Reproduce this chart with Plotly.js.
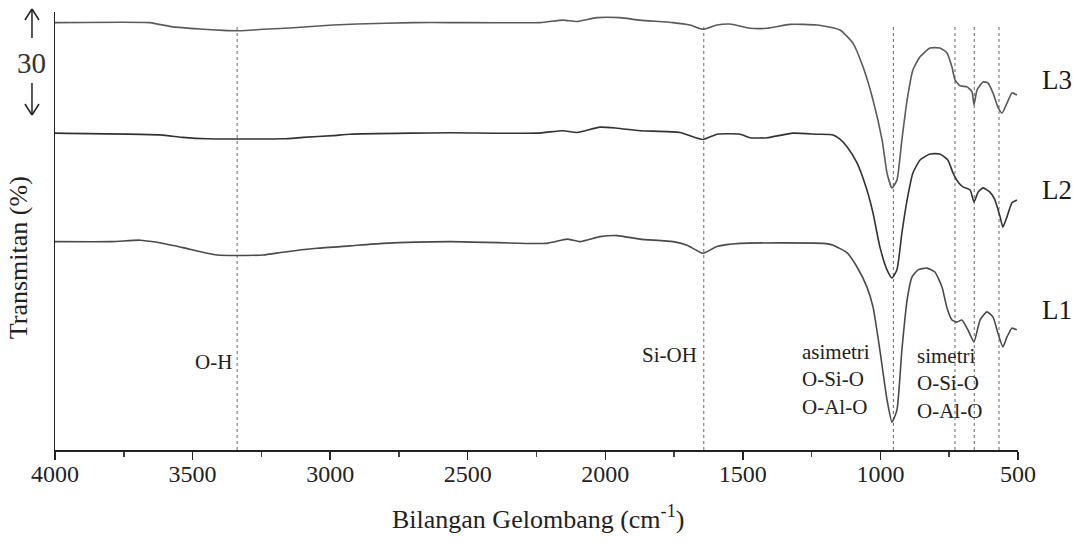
<!DOCTYPE html>
<html>
<head>
<meta charset="utf-8">
<script src="https://cdn.plot.ly/plotly-3.0.1.min.js"></script>
<style>html,body{margin:0;padding:0;background:#fff;}#chart{width:1078px;height:548px;}</style>
</head>
<body>
<div id="chart"></div>
<script>
// Wavenumbers (cm-1) and offset transmittance values
const wnL3 = [4000,3655,3629,3571,3473,3389,3328,3244,3120,2990,2902,2699,2564,2237,2154,2103,2030,1947,1874,1754,1692,1645,1594,1547,1474,1412,1329,1231,1147,1100,1063,1027,994,976,958,940,922,903,882,856,820,784,758,740,729,711,685,667,660,649,627,609,591,573,558,540,522,504];
const tL3  = [121.0,121.0,120.6,119.8,119.2,118.8,118.7,119.1,119.6,120.3,120.6,121.0,121.0,121.0,121.7,121.3,122.4,122.4,121.7,121.0,120.3,119.1,120.3,120.6,119.4,119.4,120.5,120.3,118.9,115.2,108.4,99.1,87.8,78.4,74.2,76.4,87.8,99.1,107.6,111.3,113.8,113.8,112.4,108.4,104.8,103.1,102.8,101.4,97.7,101.9,104.2,103.9,101.1,97.1,95.4,98.2,101.1,100.5];

const wnL2 = [4000,3618,3535,3448,3171,3099,2990,2928,2710,2564,2248,2154,2103,2019,1957,1874,1729,1645,1594,1510,1474,1412,1318,1231,1172,1147,1121,1085,1049,1027,1002,976,958,940,922,903,882,856,820,784,755,736,718,700,674,660,645,627,602,584,565,555,540,522,504];
const tL2  = [89.7,89.2,88.5,88.1,88.1,88.5,89.0,89.4,89.7,89.8,89.7,90.4,89.9,91.4,91.1,90.4,89.9,87.9,89.4,89.4,88.4,88.4,89.7,89.4,89.2,88.0,85.8,81.3,73.6,67.1,57.5,51.0,48.7,51.0,61.4,70.8,78.4,82.1,83.8,83.8,82.1,78.4,75.9,74.5,73.6,70.2,73.0,74.2,73.0,70.8,66.0,63.1,66.0,70.0,70.8];

const wnL1 = [4000,3794,3691,3629,3535,3411,3244,3171,3048,2928,2808,2564,2212,2139,2092,2019,1957,1874,1754,1703,1645,1594,1510,1209,1172,1121,1085,1049,1027,1002,976,958,940,922,903,885,863,831,802,776,758,740,722,704,682,660,638,613,591,573,555,540,522,504];
const tL1  = [59.0,59.0,59.4,58.8,57.3,55.2,55.2,56.0,57.1,57.8,58.5,59.0,58.5,59.7,59.0,60.4,60.7,59.7,59.0,58.0,55.7,57.6,58.5,58.5,58.0,55.8,51.8,46.1,40.5,28.3,14.2,7.9,11.3,28.3,42.5,49.0,51.0,51.5,50.4,46.1,40.2,36.8,36.2,36.8,34.0,30.6,36.8,39.1,37.7,33.1,29.2,32.0,34.5,34.0];

const seriesNames = ["L1","L2","L3"];
const xTickVals = [4000,3500,3000,2500,2000,1500,1000,500];
const xTickText = ["4000","3500","3000","2500","2000","1500","1000","500"];
const bandPositions = [3338,1642,953,729,659,569];

const serif = "'Liberation Serif', 'DejaVu Serif', serif";
const lineStyle = {color:"#4a4a4a", width:1.6, shape:"spline", smoothing:0.5};

const traces = [
  {x:wnL1, y:tL1, name:seriesNames[0], mode:"lines", line:lineStyle, hoverinfo:"x+y+name"},
  {x:wnL2, y:tL2, name:seriesNames[1], mode:"lines", line:Object.assign({}, lineStyle, {color:"#333"}), hoverinfo:"x+y+name"},
  {x:wnL3, y:tL3, name:seriesNames[2], mode:"lines", line:Object.assign({}, lineStyle, {color:"#5a5a5a"}), hoverinfo:"x+y+name"}
];

const shapes = bandPositions.map(v => ({
  type:"line", xref:"x", yref:"y", x0:v, x1:v, y0:0, y1:120.5,
  line:{color:"#666", width:1, dash:"dot"}, layer:"below"
}));

// scale bar arrows (paper coordinates, outside the plot on the left)
const arrowCol = "#222";
const ax = -0.0239, axl = -0.0312, axr = -0.0166;
[
  [ax,1.0068,ax,0.9406],[ax,1.0068,axl,0.9817],[ax,1.0068,axr,0.9817],
  [ax,0.7648,ax,0.8379],[ax,0.7648,axl,0.7900],[ax,0.7648,axr,0.7900]
].forEach(s => shapes.push({type:"line", xref:"paper", yref:"paper", x0:s[0], y0:s[1], x1:s[2], y1:s[3], line:{color:arrowCol, width:1.5}}));

const txtFont = {family:serif, size:21, color:"#222"};
const annotations = [
  {text:"O-H", xref:"x", yref:"y", x:bandPositions[0], y:24.9, xanchor:"right", yanchor:"middle", xshift:-3, showarrow:false, font:txtFont},
  {text:"Si-OH", xref:"x", yref:"y", x:bandPositions[1], y:26.9, xanchor:"right", yanchor:"middle", xshift:-5, showarrow:false, font:txtFont},
  {text:"asimetri", xref:"x", yref:"y", x:1292, y:27.7, xanchor:"left", yanchor:"middle", showarrow:false, font:txtFont},
  {text:"O-Si-O", xref:"x", yref:"y", x:1292, y:20.1, xanchor:"left", yanchor:"middle", showarrow:false, font:txtFont},
  {text:"O-Al-O", xref:"x", yref:"y", x:1292, y:12.2, xanchor:"left", yanchor:"middle", showarrow:false, font:txtFont},
  {text:"simetri", xref:"x", yref:"y", x:874, y:26.6, xanchor:"left", yanchor:"middle", showarrow:false, font:txtFont},
  {text:"O-Si-O", xref:"x", yref:"y", x:874, y:19.0, xanchor:"left", yanchor:"middle", showarrow:false, font:txtFont},
  {text:"O-Al-O", xref:"x", yref:"y", x:874, y:11.0, xanchor:"left", yanchor:"middle", showarrow:false, font:txtFont},
  {text:seriesNames[2], xref:"paper", yref:"paper", x:1.0405, y:0.8447, xanchor:"center", yanchor:"middle", showarrow:false, font:{family:serif, size:27, color:"#1a1a1a"}},
  {text:seriesNames[1], xref:"paper", yref:"paper", x:1.0405, y:0.5936, xanchor:"center", yanchor:"middle", showarrow:false, font:{family:serif, size:27, color:"#1a1a1a"}},
  {text:seriesNames[0], xref:"paper", yref:"paper", x:1.0405, y:0.3196, xanchor:"center", yanchor:"middle", showarrow:false, font:{family:serif, size:27, color:"#1a1a1a"}},
  {text:"30", xref:"paper", yref:"paper", x:-0.0249, y:0.8836, xanchor:"center", yanchor:"middle", showarrow:false, font:{family:serif, size:29, color:"#333"}},
  {text:"Bilangan Gelombang (cm<sup>-1</sup>)", xref:"paper", yref:"paper", x:0.5016, y:-0.155, xanchor:"center", yanchor:"middle", showarrow:false, font:{family:serif, size:26, color:"#222"}},
  {text:"Transmitan (%)", xref:"paper", yref:"paper", x:-0.0384, y:0.438, xanchor:"center", yanchor:"middle", textangle:-90, showarrow:false, font:{family:serif, size:26, color:"#222"}}
];

const layout = {
  width:1078, height:548,
  margin:{l:55, r:60, t:12, b:98, pad:0},
  paper_bgcolor:"#fff", plot_bgcolor:"#fff",
  showlegend:false,
  font:{family:serif},
  xaxis:{
    range:[4000,500], tickvals:xTickVals, ticktext:xTickText,
    ticks:"outside", ticklen:8, tickwidth:1.5, tickcolor:"#222",
    ticklabelstandoff:-6,
    minor:{dtick:250, ticks:"outside", ticklen:5, tickwidth:1.5, tickcolor:"#444", showgrid:false},
    showline:true, linecolor:"#222", linewidth:1.5,
    showgrid:false, zeroline:false,
    tickfont:{family:serif, size:24, color:"#222"}
  },
  yaxis:{
    range:[0,124], showticklabels:false, ticks:"",
    showline:true, linecolor:"#222", linewidth:1.5,
    showgrid:false, zeroline:false
  },
  shapes:shapes,
  annotations:annotations
};

Plotly.newPlot("chart", traces, layout, {displayModeBar:false, staticPlot:true});
</script>
</body>
</html>
